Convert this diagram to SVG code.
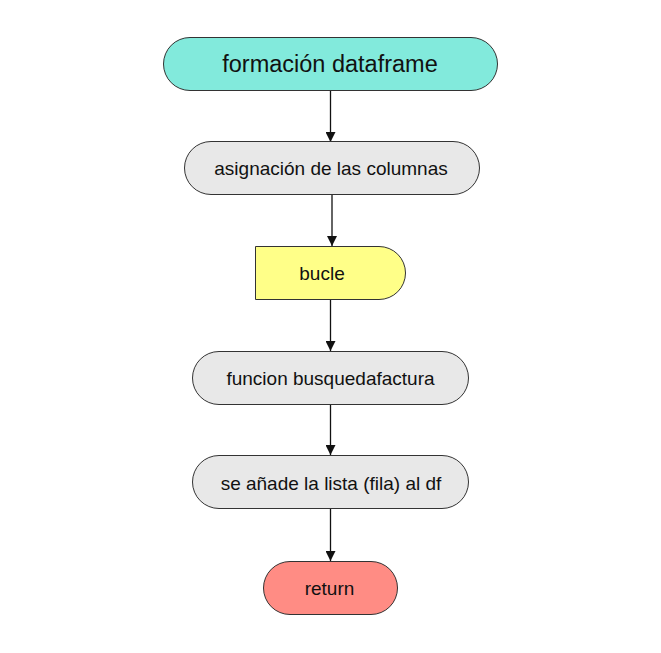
<svg xmlns="http://www.w3.org/2000/svg" width="661" height="653" viewBox="0 0 661 653">
<defs>
<style>
.n{stroke:#333333;stroke-width:1}
.t{font-family:"Liberation Sans",Arial,sans-serif;fill:#111111;text-anchor:middle;dominant-baseline:central;font-size:19px}
.e{stroke:#111111;stroke-width:1.3;fill:none}
</style>
<marker id="ah" markerWidth="10" markerHeight="10" refX="10" refY="5" orient="auto" markerUnits="userSpaceOnUse">
<path d="M0,0 L10,5 L0,10 Z" fill="#111111"/>
</marker>
</defs>
<rect width="661" height="653" fill="#ffffff"/>
<g id="connectors">
<line class="e" x1="330.5" y1="90" x2="330.5" y2="142" marker-end="url(#ah)"/>
<line class="e" x1="332" y1="194" x2="332" y2="246" marker-end="url(#ah)"/>
<line class="e" x1="330.5" y1="299" x2="330.5" y2="351" marker-end="url(#ah)"/>
<line class="e" x1="330.5" y1="404" x2="330.5" y2="455" marker-end="url(#ah)"/>
<line class="e" x1="330.5" y1="509" x2="330.5" y2="561" marker-end="url(#ah)"/>
</g>
<g id="n1">
<rect class="n" x="163.5" y="37.5" width="334" height="53" rx="26.5" fill="#82EADC"/>
<text class="t" x="330" y="64" style="font-size:23.5px">formación dataframe</text>
</g>
<g id="n2">
<rect class="n" x="184.5" y="141.5" width="295" height="53" rx="26.5" fill="#E8E8E8"/>
<text class="t" x="331" y="168">asignación de las columnas</text>
</g>
<g id="n3">
<path class="n" d="M255.5,246.5 H379 A26.5,26.5 0 0 1 379,299.5 H255.5 Z" fill="#FFFF88"/>
<text class="t" x="322" y="273">bucle</text>
</g>
<g id="n4">
<rect class="n" x="192.5" y="351.5" width="276" height="53" rx="26.5" fill="#E8E8E8"/>
<text class="t" x="330.5" y="378">funcion busquedafactura</text>
</g>
<g id="n5">
<rect class="n" x="192.5" y="455.5" width="276" height="53" rx="26.5" fill="#E8E8E8"/>
<text class="t" x="331" y="483">se añade la lista (fila) al df</text>
</g>
<g id="n6">
<rect class="n" x="263.5" y="561.5" width="134" height="53" rx="26.5" fill="#FF8C84"/>
<text class="t" x="329.5" y="588">return</text>
</g>
</svg>
